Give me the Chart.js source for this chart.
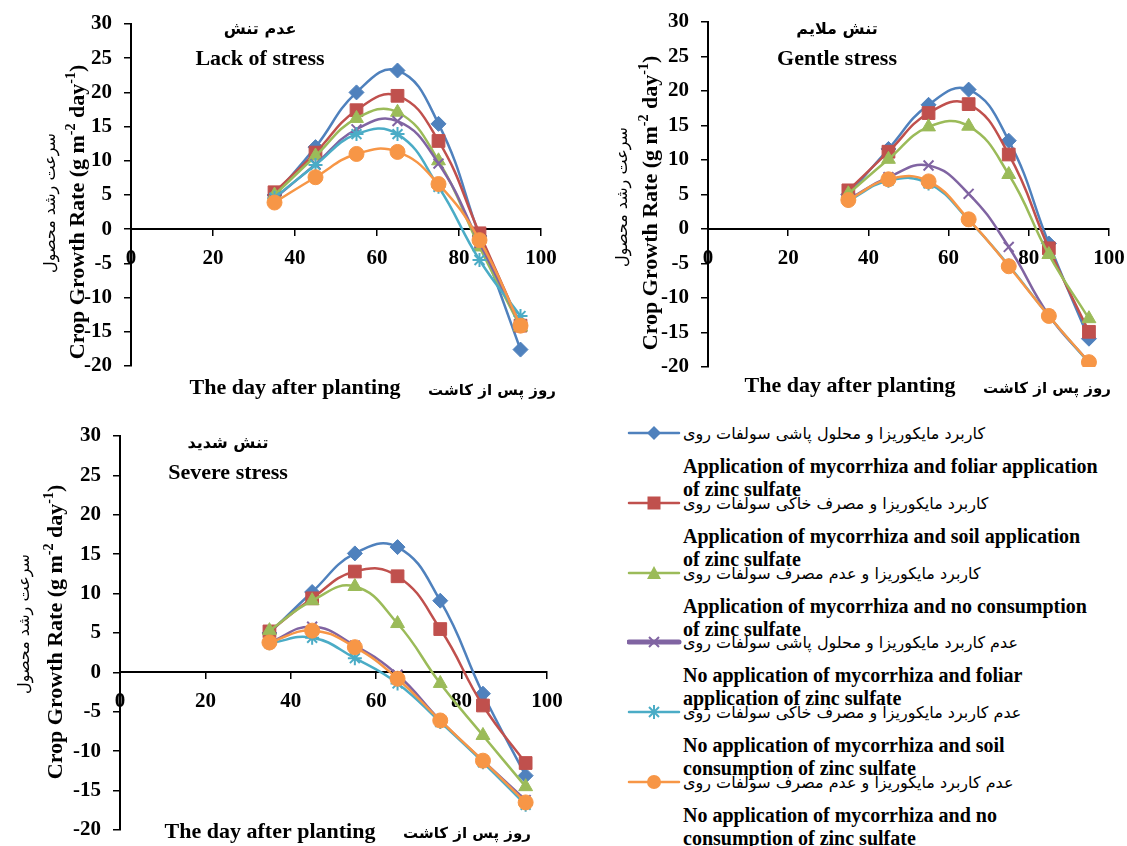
<!DOCTYPE html>
<html>
<head>
<meta charset="utf-8">
<script src="https://cdn.jsdelivr.net/npm/chart.js@4.4.0/dist/chart.umd.min.js"></script>
<style>
  body { margin: 0; background: #fff; width: 1127px; height: 846px; position: relative; overflow: hidden; }
  canvas { position: absolute; }
  .entry { position: absolute; left: 627px; width: 500px; height: 70px; }
  .entry svg { position: absolute; left: 0; top: -1px; }
  .fa { position: absolute; left: 56px; top: 0; line-height: 28px; font: 16px "DejaVu Sans"; direction: rtl; text-align: left; white-space: nowrap; }
  .en { position: absolute; left: 56px; top: 31px; line-height: 22px; font: bold 20px "Liberation Serif"; white-space: nowrap; }
</style>
</head>
<body>
<canvas id="lack" width="570" height="400" style="left:0;top:0"></canvas>
<canvas id="gentle" width="537" height="400" style="left:590px;top:0"></canvas>
<canvas id="severe" width="580" height="436" style="left:0;top:410px"></canvas>
<div id="legend"></div>
<script>
// sampling days
const days = [35, 45, 55, 65, 75, 85, 95];

// lack of stress
const lackMycFoliar = [5.0, 12.0, 20.0, 23.2, 15.4, -1.0, -17.6];
const lackMycSoil = [5.4, 11.2, 17.4, 19.5, 12.9, -0.6, -14.1];
const lackMycNone = [5.0, 10.7, 16.2, 17.1, 10.0, -2.6, -14.3];
const lackNoMycFoliar = [4.5, 9.5, 14.6, 15.8, 9.6, -2.0, -14.0];
const lackNoMycSoil = [4.6, 9.4, 13.9, 13.9, 6.2, -4.5, -12.7];
const lackNoMycNone = [3.9, 7.6, 11.0, 11.3, 6.6, -1.6, -14.1];

// gentle stress
const gentleMycFoliar = [5.0, 11.6, 18.0, 20.2, 12.8, -2.1, -15.9];
const gentleMycSoil = [5.6, 11.2, 16.8, 18.1, 10.8, -2.8, -14.9];
const gentleMycNone = [5.1, 10.1, 14.8, 14.9, 7.9, -3.7, -13.0];
const gentleNoMycFoliar = [4.3, 7.5, 9.2, 5.1, -2.6, -12.5, -19.3];
const gentleNoMycSoil = [4.1, 7.0, 6.6, 1.3, -5.3, -12.6, -19.4];
const gentleNoMycNone = [4.2, 7.2, 6.9, 1.4, -5.4, -12.6, -19.3];

// severe stress
const severeMycFoliar = [5.0, 10.2, 15.1, 15.9, 9.1, -2.7, -13.1];
const severeMycSoil = [5.2, 9.4, 12.8, 12.2, 5.5, -4.2, -11.5];
const severeMycNone = [5.3, 9.1, 10.9, 6.2, -1.4, -8.0, -14.5];
const severeNoMycFoliar = [3.8, 5.8, 3.4, -0.3, -6.1, -11.2, -16.2];
const severeNoMycSoil = [3.7, 4.4, 1.8, -1.4, -6.3, -11.4, -16.8];
const severeNoMycNone = [3.8, 5.3, 3.2, -0.8, -6.1, -11.2, -16.5];

const xTicks = [0, 20, 40, 60, 80, 100];
const yTicks = [-20, -15, -10, -5, 0, 5, 10, 15, 20, 25, 30];

const namesFa = [
  'کاربرد مایکوریزا و محلول پاشی سولفات روی',
  'کاربرد مایکوریزا و مصرف خاکی سولفات روی',
  'کاربرد مایکوریزا و عدم مصرف سولفات روی',
  'عدم کاربرد مایکوریزا و محلول پاشی سولفات روی',
  'عدم کاربرد مایکوریزا و مصرف خاکی سولفات روی',
  'عدم کاربرد مایکوریزا و عدم مصرف سولفات روی'
];
const namesEn = [
  'Application of mycorrhiza and foliar application|of zinc sulfate',
  'Application of mycorrhiza and soil application|of zinc sulfate',
  'Application of mycorrhiza and no consumption|of zinc sulfate',
  'No application of mycorrhiza and foliar|application of zinc sulfate',
  'No application of mycorrhiza and soil|consumption of zinc sulfate',
  'No application of mycorrhiza and no|consumption of zinc sulfate'
];

const colors = ['#4F81BD', '#C0504D', '#9BBB59', '#8064A2', '#4BACC6', '#F79646'];
const markers = ['rectRot', 'rect', 'triangle', 'crossRot', 'star', 'circle'];
const radii = [7.5, 9, 8, 7, 7, 7.5];

const serif = '"Liberation Serif", "Times New Roman", serif';
const persian = '"DejaVu Sans", sans-serif';

// draws titles / axis captions as text runs
const panelText = {
  id: 'panelText',
  afterDraw(chart, args, opts) {
    const ctx = chart.ctx;
    (opts.items || []).forEach(it => {
      const runs = it.runs || [[it.text, it.font, 0]];
      ctx.save();
      ctx.fillStyle = '#000';
      ctx.textBaseline = 'middle';
      ctx.textAlign = 'left';
      ctx.translate(it.x, it.y);
      if (it.rot) ctx.rotate(it.rot);
      let total = 0;
      runs.forEach(r => { ctx.font = r[1]; total += ctx.measureText(r[0]).width; });
      let x = -total / 2;
      runs.forEach(r => {
        ctx.font = r[1];
        ctx.fillText(r[0], x, r[2]);
        x += ctx.measureText(r[0]).width;
      });
      ctx.restore();
    });
  }
};

function yTitleRuns() {
  const f = 'bold 22px ' + serif, s = 'bold 14px ' + serif;
  return [['Crop Growth Rate (g m', f, 0], ['-2', s, -7], [' day', f, 0], ['-1', s, -7], [')', f, 0]];
}

function makeChart(id, series, pad, yWidth, t) {
  const tickFont = { family: serif, size: 21, weight: 'bold' };
  new Chart(document.getElementById(id), {
    type: 'line',
    data: {
      datasets: series.map((vals, i) => ({
        label: namesEn[i],
        data: days.map((d, j) => ({ x: d, y: vals[j] })),
        borderColor: colors[i],
        backgroundColor: colors[i],
        pointStyle: markers[i],
        pointRadius: radii[i],
        pointBorderWidth: (i === 3 || i === 4) ? 2 : 1,
        borderWidth: 2.5,
        tension: 0.45,
        order: 5 - i
      }))
    },
    options: {
      responsive: false,
      animation: false,
      layout: { padding: pad },
      plugins: {
        legend: { display: false },
        tooltip: { enabled: false },
        panelText: {
          items: [
            { text: t.fa, x: t.title[0], y: t.title[1] + 3, font: 'bold 16px ' + persian },
            { text: t.en, x: t.title[0], y: t.title[1] + 32, font: 'bold 22px ' + serif },
            { text: 'The day after planting', x: t.xEn[0], y: t.xEn[1], font: 'bold 22px ' + serif },
            { text: 'روز پس از کاشت', x: t.xFa[0], y: t.xFa[1], font: 'bold 15px ' + persian },
            { text: 'سرعت رشد محصول', x: t.yFa[0], y: t.yFa[1], rot: -Math.PI / 2, font: '16px ' + persian },
            { runs: yTitleRuns(), x: t.yEn[0], y: t.yEn[1], rot: -Math.PI / 2 }
          ]
        }
      },
      scales: {
        x: {
          type: 'linear', min: 0, max: 100,
          position: { y: 0 },
          afterBuildTicks: s => { s.ticks = xTicks.map(v => ({ value: v })); },
          afterFit: s => { s.height = 0; s.paddingLeft = 0; s.paddingRight = 0; },
          ticks: { font: tickFont, color: '#000', padding: 11, maxRotation: 0, autoSkip: false },
          grid: { drawOnChartArea: false, tickLength: 6, color: '#000', lineWidth: 1.5 },
          border: { color: '#000', width: 2 }
        },
        y: {
          min: -20, max: 30,
          afterBuildTicks: s => { s.ticks = yTicks.map(v => ({ value: v })); },
          afterFit: s => { s.width = yWidth; s.paddingTop = 0; s.paddingBottom = 0; },
          ticks: { font: tickFont, color: '#000', padding: 12, autoSkip: false },
          grid: { drawOnChartArea: false, tickLength: 7, color: '#000', lineWidth: 1.5 },
          border: { color: '#000', width: 2 }
        }
      }
    },
    plugins: [panelText]
  });
}

makeChart('lack',
  [lackMycFoliar, lackMycSoil, lackMycNone, lackNoMycFoliar, lackNoMycSoil, lackNoMycNone],
  { left: 0, top: 24, right: 29, bottom: 34 }, 131,
  { fa: 'عدم تنش', en: 'Lack of stress', title: [260, 27], xEn: [295, 388], xFa: [492, 391], yFa: [51, 203], yEn: [78, 212] });

makeChart('gentle',
  [gentleMycFoliar, gentleMycSoil, gentleMycNone, gentleNoMycFoliar, gentleNoMycSoil, gentleNoMycNone],
  { left: 0, top: 22, right: 18, bottom: 33 }, 118,
  { fa: 'تنش ملایم', en: 'Gentle stress', title: [247, 27], xEn: [260, 386], xFa: [457, 389], yFa: [33, 197], yEn: [61, 203] });

makeChart('severe',
  [severeMycFoliar, severeMycSoil, severeMycNone, severeNoMycFoliar, severeNoMycSoil, severeNoMycNone],
  { left: 0, top: 26, right: 33, bottom: 16 }, 120,
  { fa: 'تنش شدید', en: 'Severe stress', title: [228, 31], xEn: [270, 422], xFa: [467, 424], yFa: [25, 214], yEn: [56, 222] });

// legend
function markerSvg(i) {
  const c = colors[i];
  const cx = 27, cy = 10;
  let m = '';
  if (i === 0) m = `<polygon points="${cx},${cy - 7} ${cx + 7},${cy} ${cx},${cy + 7} ${cx - 7},${cy}" fill="${c}"/>`;
  if (i === 1) m = `<rect x="${cx - 6.5}" y="${cy - 6.5}" width="13" height="13" fill="${c}"/>`;
  if (i === 2) m = `<polygon points="${cx},${cy - 7} ${cx + 7},${cy + 6} ${cx - 7},${cy + 6}" fill="${c}"/>`;
  if (i === 3) m = `<path d="M${cx - 5} ${cy - 5}L${cx + 5} ${cy + 5}M${cx + 5} ${cy - 5}L${cx - 5} ${cy + 5}" stroke="${c}" stroke-width="2"/>`;
  if (i === 4) m = `<path d="M${cx - 5} ${cy - 5}L${cx + 5} ${cy + 5}M${cx + 5} ${cy - 5}L${cx - 5} ${cy + 5}M${cx} ${cy - 7}L${cx} ${cy + 7}" stroke="${c}" stroke-width="2"/>`;
  if (i === 5) m = `<circle cx="${cx}" cy="${cy}" r="7" fill="${c}"/>`;
  const lw = i === 3 ? 5 : 2.5;
  return `<svg width="56" height="20"><line x1="2" y1="${cy}" x2="52" y2="${cy}" stroke="${c}" stroke-width="${lw}" stroke-linecap="round"/>${m}</svg>`;
}

const legend = document.getElementById('legend');
namesFa.forEach((fa, i) => {
  const d = document.createElement('div');
  d.className = 'entry';
  d.style.top = (424 + i * 69.8) + 'px';
  d.innerHTML = markerSvg(i) + `<div class="fa">${fa}</div><div class="en">${namesEn[i].split('|').join('<br>')}</div>`;
  legend.appendChild(d);
});
</script>
</body>
</html>
